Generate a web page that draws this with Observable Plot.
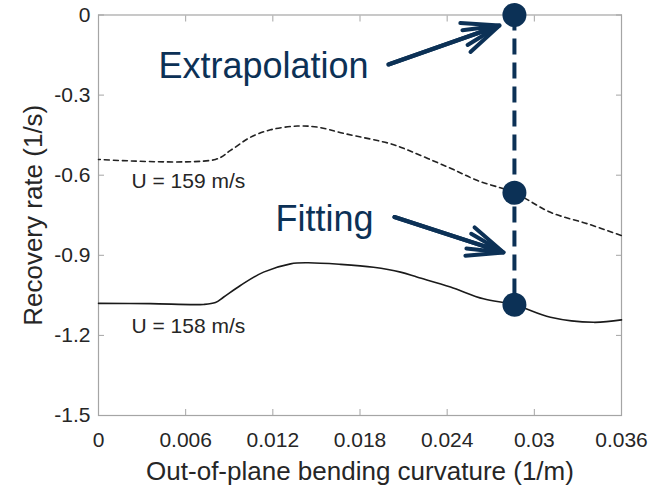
<!DOCTYPE html>
<html>
<head>
<meta charset="utf-8">
<script src="https://cdn.jsdelivr.net/npm/d3@7"></script>
<script src="https://cdn.jsdelivr.net/npm/@observablehq/plot@0.6"></script>
<style>
  html, body { margin: 0; padding: 0; background: #fff; }
  #chart svg { display: block; }
</style>
</head>
<body>
<div id="chart"></div>
<script>
// ---- data ----
const xTicks = [0, 0.006, 0.012, 0.018, 0.024, 0.03, 0.036];
const yTicks = [0, -0.3, -0.6, -0.9, -1.2, -1.5];
const xTitle = "Out-of-plane bending curvature (1/m)";
const yTitle = "Recovery rate (1/s)";

// U = 158 m/s (solid)
const curv158 = [0, 0.00358, 0.00723, 0.00805, 0.0086, 0.00977, 0.01136, 0.01322, 0.01439, 0.01666, 0.01893, 0.02079, 0.02196, 0.02423, 0.0265, 0.02863, 0.03111, 0.03407, 0.036];
const rate158 = [-1.080, -1.081, -1.084, -1.077, -1.057, -1.013, -0.963, -0.932, -0.928, -0.934, -0.945, -0.963, -0.982, -1.019, -1.063, -1.085, -1.132, -1.151, -1.142];

// U = 159 m/s (dashed)
const curv159 = [0, 0.00805, 0.00909, 0.01046, 0.01184, 0.0137, 0.01508, 0.01686, 0.0201, 0.02079, 0.02423, 0.02609, 0.02863, 0.03111, 0.03366, 0.036];
const rate159 = [-0.541, -0.541, -0.507, -0.458, -0.430, -0.416, -0.420, -0.443, -0.482, -0.495, -0.574, -0.620, -0.666, -0.739, -0.782, -0.826];

const seriesLabels = ["U = 159 m/s", "U = 158 m/s"];
const labelX = [0.00227, 0.00227];
const labelY = [-0.621, -1.164];

// extrapolation markers
const markerX = 0.02863;
const markerY = [0, -0.666, -1.085];

// annotations
const notes = ["Extrapolation", "Fitting"];
const noteX = [0.00413, 0.01218];
const noteY = [-0.192, -0.765];
const arrowX1 = [0.01996, 0.02037];
const arrowY1 = [-0.1854, -0.7566];
const arrowX2 = [0.0276, 0.02788];
const arrowY2 = [-0.0393, -0.8895];

const navy = "#0c3156";
const tickColor = "#a5a5a5";
const textColor = "#262626";
const font = "'Liberation Sans', Arial, Helvetica, sans-serif";

const idx158 = d3.range(curv158.length);
const idx159 = d3.range(curv159.length);
const idxNotes = d3.range(notes.length);

const arrowOpts = (angle, len) => ({
  x1: i => arrowX1[i], y1: i => arrowY1[i], x2: i => arrowX2[i], y2: i => arrowY2[i],
  stroke: navy, strokeWidth: 4, headLength: len, headAngle: angle, insetEnd: 0, insetStart: 0, strokeLinejoin: "miter"
});

const chart = Plot.plot({
  width: 649,
  height: 485,
  marginLeft: 98,
  marginRight: 28,
  marginTop: 14.5,
  marginBottom: 70,
  style: { fontFamily: font, color: textColor, background: "#fff", overflow: "visible" },
  x: { domain: [0, 0.036] },
  y: { domain: [-1.5, 0] },
  marks: [
    Plot.frame({ stroke: tickColor, strokeWidth: 1.2 }),
    // inward tick marks on all four sides
    Plot.axisX(xTicks, { anchor: "bottom", tickSize: -6, stroke: tickColor, tickFormat: () => "", label: null }),
    Plot.axisX(xTicks, { anchor: "top", tickSize: -6, stroke: tickColor, tickFormat: () => "", label: null }),
    Plot.axisY(yTicks, { anchor: "left", tickSize: -6, stroke: tickColor, tickFormat: () => "", label: null }),
    Plot.axisY(yTicks, { anchor: "right", tickSize: -6, stroke: tickColor, tickFormat: () => "", label: null }),
    // tick labels
    Plot.axisX(xTicks, { anchor: "bottom", tickSize: 0, tickPadding: 17, fontSize: 21, fill: textColor, tickFormat: d => String(d), label: null }),
    Plot.axisY(yTicks, { anchor: "left", tickSize: 0, tickPadding: 8, fontSize: 21, fill: textColor, tickFormat: d => String(d), label: null }),
    // axis titles
    Plot.text([xTitle], { frameAnchor: "bottom", dy: 56, lineAnchor: "middle", textAnchor: "middle", text: d => d, fontSize: 26, fill: textColor }),
    Plot.text([yTitle], { frameAnchor: "left", dx: -65, rotate: -90, lineAnchor: "middle", textAnchor: "middle", text: d => d, fontSize: 26, fill: textColor }),
    // curves
    Plot.line(idx159, { x: i => curv159[i], y: i => rate159[i], curve: "catmull-rom", stroke: "#222", strokeWidth: 1.6, strokeDasharray: "5,4", strokeDashoffset: -6 }),
    Plot.line(idx158, { x: i => curv158[i], y: i => rate158[i], curve: "catmull-rom", stroke: "#1a1a1a", strokeWidth: 1.6 }),
    Plot.text(seriesLabels, { x: (d, i) => labelX[i], y: (d, i) => labelY[i], text: d => d, textAnchor: "start", fontSize: 21, fill: textColor }),
    // extrapolation
    Plot.ruleX([markerX], { x: d => d, y1: markerY[0], y2: markerY[2], stroke: navy, strokeWidth: 4, strokeDasharray: "16,8" }),
    Plot.dot(markerY, { x: () => markerX, y: d => d, r: 12, fill: navy, stroke: "none" }),
    // annotations
    Plot.text(notes, { x: (d, i) => noteX[i], y: (d, i) => noteY[i], text: d => d, textAnchor: "start", fontSize: 36, fill: navy }),
    Plot.arrow(idxNotes, arrowOpts(46, 15)),
    Plot.arrow(idxNotes, arrowOpts(24, 14))
  ]
});
document.getElementById("chart").appendChild(chart);
</script>
</body>
</html>
